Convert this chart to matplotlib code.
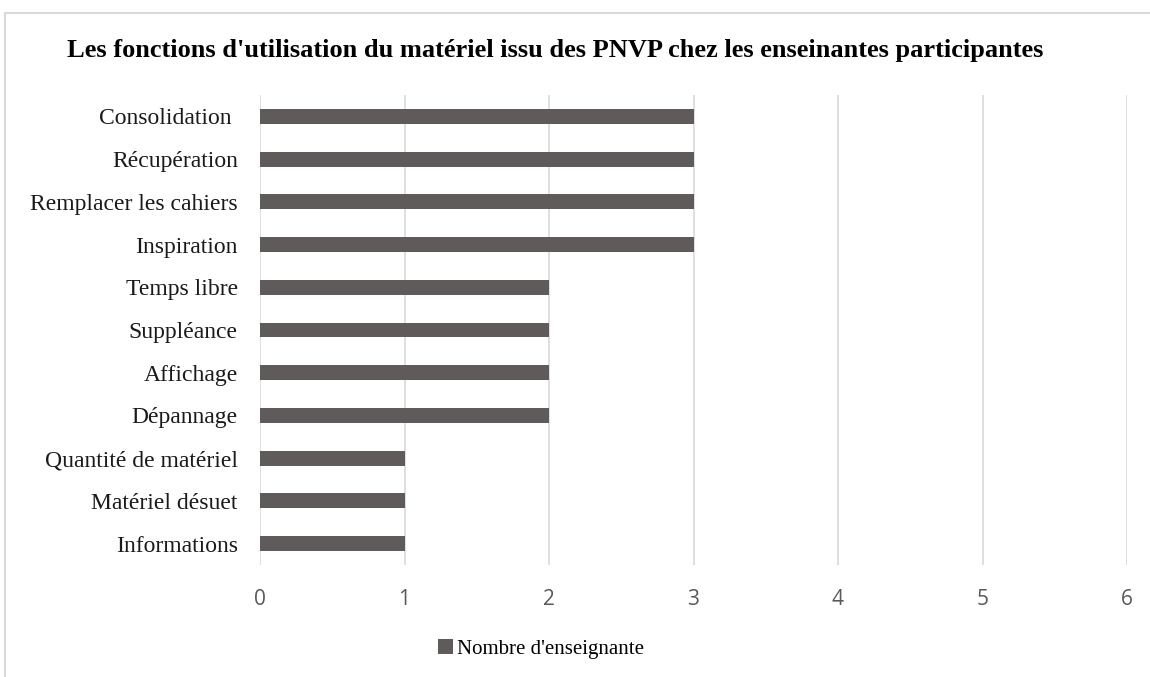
import matplotlib.pyplot as plt
from matplotlib.patches import Rectangle

# Data (top to bottom as shown)
categories = ["Consolidation ", "Récupération", "Remplacer les cahiers", "Inspiration",
              "Temps libre", "Suppléance", "Affichage", "Dépannage",
              "Quantité de matériel", "Matériel désuet", "Informations"]
values = [3, 3, 3, 3, 2, 2, 2, 2, 1, 1, 1]
xticks = [0, 1, 2, 3, 4, 5, 6]

bar_color = "#5f5b5b"
grid_color = "#d9d9d9"

fig = plt.figure(figsize=(11.5, 6.77), dpi=100)
W, H = 1150, 677
ax = fig.add_axes([260 / W, 1 - 565 / H, (1127 - 260) / W, (565 - 95) / H])

pos = list(range(len(categories)))
ax.barh(pos, values, height=0.35, color=bar_color, label="Nombre d'enseignante", zorder=3)
ax.set_ylim(len(categories) - 0.5, -0.5)
ax.set_xlim(0, 6)
ax.set_xticks(xticks)
ax.set_xticklabels([str(t) for t in xticks], fontfamily="Open Sans", fontsize=15, color="#595959")
ax.set_yticks(pos)
ax.set_yticklabels(categories, fontfamily="Liberation Serif", fontsize=17, color="#1a1a1a")
ax.tick_params(axis="both", length=0)
ax.tick_params(axis="x", pad=17)
ax.tick_params(axis="y", pad=16)
ax.grid(axis="x", color=grid_color, linewidth=1.2, zorder=0)
for s in ax.spines.values():
    s.set_visible(False)

fig.text(0.5 * (65 + 1045) / W, 1 - 50 / H,
         "Les fonctions d'utilisation du matériel issu des PNVP chez les enseinantes participantes",
         ha="center", va="center", fontfamily="Liberation Serif", fontweight="bold", fontsize=19)

# chart frame
fig.patches.append(Rectangle((5 / W, -0.1), 1.2, 1 - 13 / H + 0.1, transform=fig.transFigure,
                             fill=False, edgecolor="#d9d9d9", linewidth=1.5))

leg = fig.legend(loc="center", bbox_to_anchor=(541 / W, 1 - 649 / H), frameon=False,
                 prop={"family": "Liberation Serif", "size": 15}, handlelength=0.75,
                 handleheight=0.75, handletextpad=0.2)

fig.savefig("out.png", dpi=100)
